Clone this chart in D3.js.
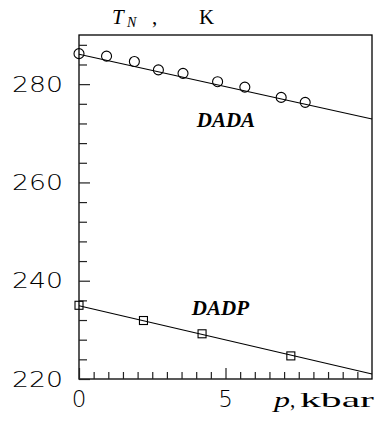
<!DOCTYPE html>
<html>
<head>
<meta charset="utf-8">
<script src="https://cdn.jsdelivr.net/npm/d3@7"></script>
<style>
  body { margin: 0; background: #fff; }
  svg { display: block; }
</style>
</head>
<body>
<div id="chart"></div>
<script>
const W = 381;
const H = 423;
const margin = { top: 35, right: 9, bottom: 44, left: 79 };

// DADA (circles)
const dadaP = [0, 0.94, 1.89, 2.71, 3.55, 4.73, 5.66, 6.9, 7.72];
const dadaT = [286.2, 285.7, 284.6, 282.9, 282.2, 280.5, 279.4, 277.3, 276.3];
// DADP (squares)
const dadpP = [0, 2.2, 4.2, 7.23];
const dadpT = [235.0, 231.9, 229.2, 224.7];
// fitted lines
const fitP = [0, 10];
const dadaFitT = [286.1, 272.9];
const dadpFitT = [234.9, 221.0];

const xMajor = [0, 5];
const yMajor = [220, 240, 260, 280];

const svg = d3.select("#chart")
  .append("svg")
  .attr("width", W)
  .attr("height", H);

const x = d3.scaleLinear().domain([0, 10]).range([margin.left, W - margin.right]);
const y = d3.scaleLinear().domain([220, 290]).range([H - margin.bottom, margin.top]);

// minor ticks
const xMinor = d3.range(0, 10.001, 0.5).filter(v => xMajor.indexOf(v) < 0 && v < 10);
const yMinor = d3.range(220, 290, 4).filter(v => yMajor.indexOf(v) < 0);

function addAxes() {
  svg.append("g")
    .attr("transform", `translate(0,${y(220)})`)
    .call(d3.axisBottom(x).tickValues(xMinor).tickSize(-7).tickFormat(""))
    .call(g => g.select(".domain").remove());
  svg.append("g")
    .attr("transform", `translate(0,${y(220)})`)
    .call(d3.axisBottom(x).tickValues(xMajor).tickSize(-11).tickFormat(""))
    .call(g => g.select(".domain").remove());
  svg.append("g")
    .attr("transform", `translate(${x(0)},0)`)
    .call(d3.axisLeft(y).tickValues(yMinor).tickSize(-8).tickFormat(""))
    .call(g => g.select(".domain").remove());
  svg.append("g")
    .attr("transform", `translate(${x(0)},0)`)
    .call(d3.axisLeft(y).tickValues(yMajor).tickSize(-11).tickFormat(""))
    .call(g => g.select(".domain").remove());

  svg.selectAll(".tick line").attr("stroke", "#222").attr("stroke-width", 1.2);

  // tick labels
  svg.append("g")
    .selectAll("text")
    .data(yMajor)
    .enter()
    .append("text")
    .attr("x", x(0) - 16)
    .attr("y", d => y(d) + 7.5)
    .attr("text-anchor", "end")
    .attr("textLength", 51)
    .attr("lengthAdjust", "spacingAndGlyphs")
    .style("font-family", "DejaVu Sans")
    .style("font-weight", 200)
    .style("font-size", "20.5px")
    .text(d => d);

  svg.append("g")
    .selectAll("text")
    .data(xMajor)
    .enter()
    .append("text")
    .attr("x", d => x(d))
    .attr("y", y(220) + 28)
    .attr("text-anchor", "middle")
    .style("font-family", "DejaVu Sans")
    .style("font-weight", 200)
    .style("font-size", "23px")
    .text(d => d);
}

function addFrame() {
  svg.append("rect")
    .attr("x", x(0))
    .attr("y", y(290))
    .attr("width", x(10) - x(0))
    .attr("height", y(220) - y(290))
    .attr("fill", "none")
    .attr("stroke", "#000")
    .attr("stroke-width", 1.3);
}

function addSeries() {
  const line = d3.line().x(d => x(d[0])).y(d => y(d[1]));
  [dadaFitT, dadpFitT].forEach(ts => {
    svg.append("path")
      .datum(fitP.map((p, i) => [p, ts[i]]))
      .attr("d", line)
      .attr("fill", "none")
      .attr("stroke", "#000")
      .attr("stroke-width", 1.1);
  });

  svg.append("g")
    .selectAll("circle")
    .data(dadaP)
    .enter()
    .append("circle")
    .attr("cx", d => x(d))
    .attr("cy", (d, i) => y(dadaT[i]))
    .attr("r", 5)
    .attr("fill", "none")
    .attr("stroke", "#000")
    .attr("stroke-width", 1.1);

  const s = 8;
  svg.append("g")
    .selectAll("rect")
    .data(dadpP)
    .enter()
    .append("rect")
    .attr("x", d => x(d) - s / 2)
    .attr("y", (d, i) => y(dadpT[i]) - s / 2)
    .attr("width", s)
    .attr("height", s)
    .attr("fill", "none")
    .attr("stroke", "#000")
    .attr("stroke-width", 1.1);
}

function addLabels() {
  const serif = "Liberation Serif";
  const lab = (txt, p, t) => svg.append("text")
    .attr("x", x(p))
    .attr("y", y(t))
    .style("font-family", serif)
    .style("font-style", "italic")
    .style("font-weight", "bold")
    .style("font-size", "21px")
    .text(txt);
  lab("DADA", 4.02, 271.3);
  lab("DADP", 3.85, 233.1);

  // title T_N , K
  const title = svg.append("text")
    .attr("x", 112)
    .attr("y", 23.5)
    .style("font-family", serif)
    .style("font-size", "21px");
  title.append("tspan").style("font-style", "italic").text("T");
  title.append("tspan").attr("x", 127).attr("dy", 3.5)
    .style("font-style", "italic").style("font-size", "14px").text("N");
  title.append("tspan").attr("x", 152).attr("dy", -3.5).text(",");
  title.append("tspan").attr("x", 199).text("K");

  // axis label p,kbar
  const xl = svg.append("text")
    .attr("x", 274)
    .attr("y", 407)
    .style("font-family", serif)
    .style("font-size", "21px");
  xl.append("tspan").style("font-style", "italic")
    .attr("textLength", 16).attr("lengthAdjust", "spacingAndGlyphs").text("p");
  xl.append("tspan").attr("x", 290).text(",");
  xl.append("tspan").attr("x", 300).attr("textLength", 74)
    .attr("lengthAdjust", "spacingAndGlyphs").text("kbar");
}

addFrame();
addAxes();
addSeries();
addLabels();
</script>
</body>
</html>
